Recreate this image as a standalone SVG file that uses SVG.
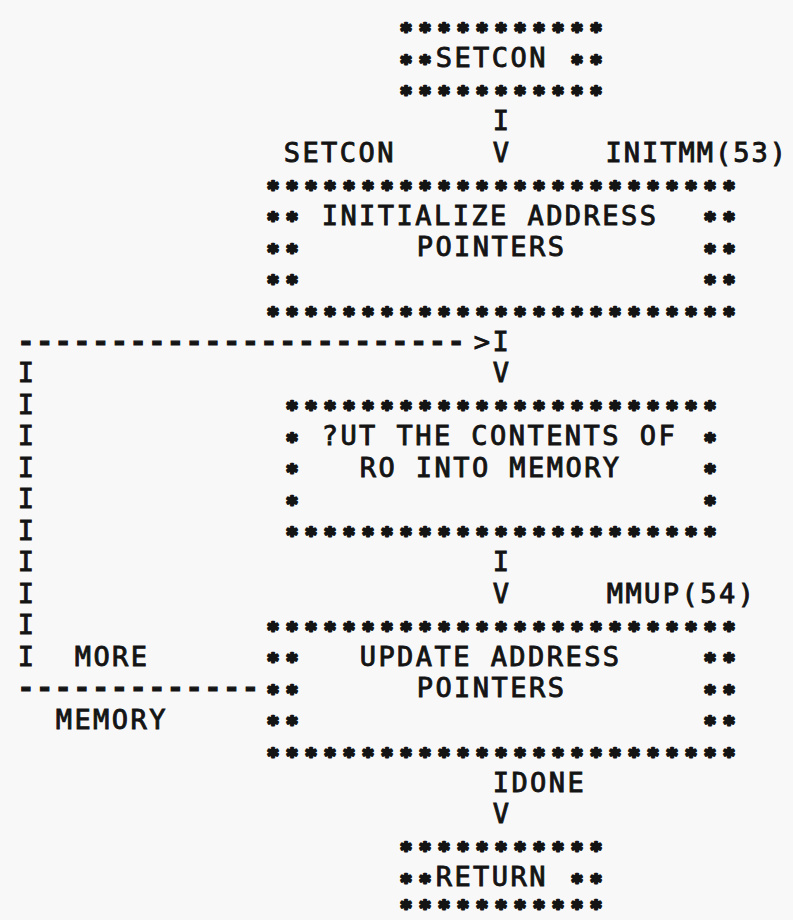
<svg xmlns="http://www.w3.org/2000/svg" width="793" height="920" viewBox="0 0 793 920">
<style>
.t{font-family:"DejaVu Sans Mono","Liberation Mono",monospace;font-size:27px;letter-spacing:2.45px;fill:#141414;stroke:#141414;stroke-width:0.9}
.s{font-family:"DejaVu Sans Mono","Liberation Mono",monospace;font-size:20px;letter-spacing:6.96px;font-weight:bold;fill:#141414;stroke:#141414;stroke-width:2.5;stroke-linejoin:round}
.d{font-family:"DejaVu Sans Mono","Liberation Mono",monospace;font-size:27px;letter-spacing:2.45px;font-weight:bold;fill:#141414;stroke:#141414;stroke-width:1.2}
</style>
<rect width="793" height="920" fill="#f8f8f8"/>
<g id="setcon">
<text class="s" x="399.98" y="37.4">***********</text>
<text class="s" x="399.98" y="68.9">**</text><text class="t" x="435.7" y="67.3">SETCON</text><text class="s" x="570.98" y="68.9">**</text>
<text class="s" x="399.98" y="100.4">***********</text>
</g>
<g id="init">
<text class="s" x="266.98" y="194.9">*************************</text>
<text class="s" x="266.98" y="226.4">**</text><text class="t" x="321.7" y="224.8">INITIALIZE ADDRESS</text><text class="s" x="703.98" y="226.4">**</text>
<text class="s" x="266.98" y="257.9">**</text><text class="t" x="416.7" y="256.3">POINTERS</text><text class="s" x="703.98" y="257.9">**</text>
<text class="s" x="266.98" y="289.4">**</text><text class="s" x="703.98" y="289.4">**</text>
<text class="s" x="266.98" y="320.9">*************************</text>
</g>
<g id="put">
<text class="s" x="285.98" y="415.4">***********************</text>
<text class="s" x="285.98" y="446.9">*</text><text class="t" x="321.7" y="445.3">?UT THE CONTENTS OF</text><text class="s" x="703.98" y="446.9">*</text>
<text class="s" x="285.98" y="478.4">*</text><text class="t" x="359.7" y="476.8">RO INTO MEMORY</text><text class="s" x="703.98" y="478.4">*</text>
<text class="s" x="285.98" y="509.9">*</text><text class="s" x="703.98" y="509.9">*</text>
<text class="s" x="285.98" y="541.4">***********************</text>
</g>
<g id="update">
<text class="s" x="266.98" y="635.9">*************************</text>
<text class="s" x="266.98" y="667.4">**</text><text class="t" x="359.7" y="665.8">UPDATE ADDRESS</text><text class="s" x="703.98" y="667.4">**</text>
<text class="s" x="266.98" y="698.9">**</text><text class="t" x="416.7" y="697.3">POINTERS</text><text class="s" x="703.98" y="698.9">**</text>
<text class="s" x="266.98" y="730.4">**</text><text class="s" x="703.98" y="730.4">**</text>
<text class="s" x="266.98" y="761.9">*************************</text>
</g>
<g id="return">
<text class="s" x="399.98" y="856.4">***********</text>
<text class="s" x="399.98" y="887.9">**</text><text class="t" x="435.7" y="886.3">RETURN</text><text class="s" x="570.98" y="887.9">**</text>
<text class="s" x="399.98" y="914.4">***********</text>
</g>
<g id="connectors">
<text class="t" x="492.7" y="130.3">I</text>
<text class="t" x="492.7" y="161.8">V</text>
<text class="t" x="283.7" y="161.8">SETCON</text>
<text class="t" x="605.5" y="161.8" style="letter-spacing:2px">INITMM(53)</text>
<text class="d" x="17.7" y="350.8">------------------------</text>
<text class="t" x="473.7" y="350.8">&gt;I</text>
<text class="t" x="492.7" y="382.3">V</text>
<text class="t"><tspan x="17.7" y="382.3">I</tspan><tspan x="17.7" y="413.8">I</tspan><tspan x="17.7" y="445.3">I</tspan><tspan x="17.7" y="476.8">I</tspan><tspan x="17.7" y="508.3">I</tspan><tspan x="17.7" y="539.8">I</tspan><tspan x="17.7" y="571.3">I</tspan><tspan x="17.7" y="602.8">I</tspan><tspan x="17.7" y="634.3">I</tspan><tspan x="17.7" y="665.8">I</tspan></text>
<text class="t" x="492.7" y="571.3">I</text>
<text class="t" x="492.7" y="602.8">V</text>
<text class="t" x="606.7" y="602.8">MMUP(54)</text>
<text class="t" x="74.7" y="665.8">MORE</text>
<text class="d" x="17.7" y="697.3">-------------</text>
<text class="t" x="55.7" y="728.8">MEMORY</text>
<text class="t" x="492.7" y="791.8">IDONE</text>
<text class="t" x="492.7" y="823.3">V</text>
</g>
</svg>
